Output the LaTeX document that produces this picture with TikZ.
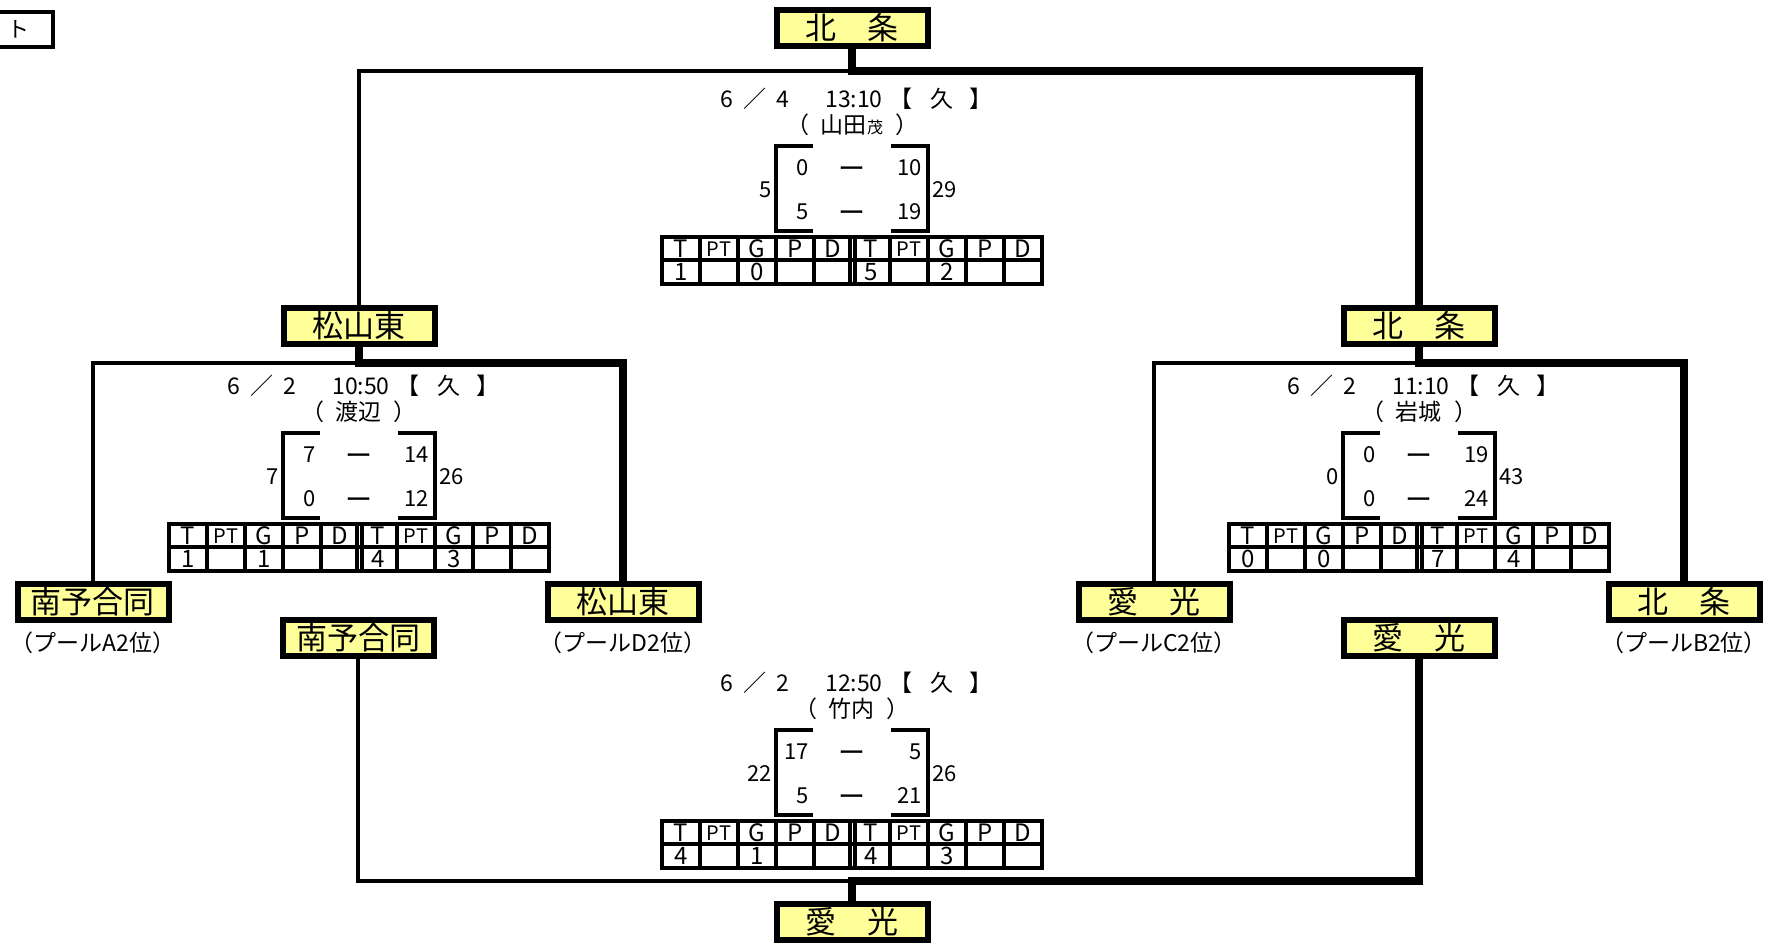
\documentclass[tikz,border=0pt]{standalone}
\usepackage{fontspec}
\newfontfamily\jp{Noto Sans CJK JP}
\usetikzlibrary{positioning}
\definecolor{teamyellow}{RGB}{255,255,153}
\newcommand\fs[1]{\fontsize{#1}{#1}\selectfont}

\begin{document}
\begin{tikzpicture}[x=0.5pt,y=-0.5pt,
  team/.style={draw,line width=3pt,fill=teamyellow,minimum width=75.5pt,minimum height=18pt,inner sep=0pt,font=\jp\fs{15.5pt}},
  pool/.style={inner sep=0pt,font=\jp\fs{11.5pt}},
  txt/.style={inner sep=0pt,font=\jp\fs{11.5pt}},
  score/.style={inner sep=0pt,font=\jp\fs{11pt}},
  refname/.style={inner sep=0pt,font=\jp\fs{11.5pt}},
  cell/.style={inner sep=0pt,font=\jp\fs{12pt}},
  thinln/.style={line width=1.8pt},
  thickln/.style={line width=4pt},
  tabln/.style={line width=2pt}]
  \useasboundingbox (0,0) rectangle (1768,943);

  \node[draw,line width=2pt,minimum width=35pt,minimum height=17.5pt,inner sep=0pt,font=\jp\fs{11pt}] (tag) at (18,29) {ト};

  \node[team] (fin) at (852,28) {北　条};
  \node[team] (sfl) at (359,326) {松山東};
  \node[team] (sfr) at (1419,326) {北　条};
  \node[team] (lfa) at (93,602) {南予合同};
  \node[team] (lfd) at (623,602) {松山東};
  \node[team] (lfc) at (1154,602) {愛　光};
  \node[team] (lfb) at (1684,602) {北　条};
  \node[team] (thl) at (358,638) {南予合同};
  \node[team] (thr) at (1419,638) {愛　光};
  \node[team] (third) at (852,922) {愛　光};

  \node[pool,below=4pt of lfa] (pla) {（プールA2位）};
  \node[pool,below=4pt of lfd] (pld) {（プールD2位）};
  \node[pool,below=4pt of lfc] (plc) {（プールC2位）};
  \node[pool,below=4pt of lfb] (plb) {（プールB2位）};

  \coordinate (jf) at (852,71);
  \coordinate (jl) at (359,363);
  \coordinate (jr) at (1419,363);
  \coordinate (jb) at (852,881);
  \draw[thinln] (sfl) |- (jf);
  \draw[thickln] (sfr) |- (jf) -- (fin);
  \draw[thinln] (lfa) |- (jl);
  \draw[thickln] (lfd) |- (jl) -- (sfl);
  \draw[thinln] (lfc) |- (jr);
  \draw[thickln] (lfb) |- (jr) -- (sfr);
  \draw[thinln] (thl) |- (jb);
  \draw[thickln] (thr) |- (jb) -- (third);

  \foreach \nm/\cx/\cy/\dd/\tm/\rf/\lt/\la/\ra/\lb/\rb/\rt/\ta/\tg/\ua/\ug in {
    fm/852/99/4/13:10/{山田{\fs{8pt}茂}}/5/0/10/5/19/29/1/0/5/2,
    lm/359/386/2/10:50/渡辺/7/7/14/0/12/26/1/1/4/3,
    rm/1419/386/2/11:10/岩城/0/0/19/0/24/43/0/0/7/4,
    bm/852/683/2/12:50/竹内/22/17/5/5/21/26/4/1/4/3} {
    \begin{scope}[shift={(\cx,\cy)}]
      \node[txt] (\nm-day) at (-97,0) {6\hspace{5pt}／\hspace{5pt}\dd};
      \node[txt] (\nm-time) at (2,0) {\tm};
      \node[txt] (\nm-kyu) at (89,0) {【\hspace{9pt}久\hspace{8pt}】};
      \node[refname] (\nm-ref) at (0,26) {（\hspace{6pt}\rf\hspace{6pt}）};
      \draw[tabln] (-39,47) -| (-76,132) -- (-39,132);
      \draw[tabln] (39,47) -| (76,132) -- (39,132);
      \node[score,anchor=east] (\nm-la) at (-43,69) {\la};
      \node[score,font=\jp\fs{13.5pt}] (\nm-da) at (0,74) {ー};
      \node[score,anchor=east] (\nm-ra) at (70,69) {\ra};
      \node[score,anchor=east] (\nm-lb) at (-43,113) {\lb};
      \node[score,font=\jp\fs{13.5pt}] (\nm-db) at (0,118) {ー};
      \node[score,anchor=east] (\nm-rb) at (70,113) {\rb};
      \node[score,anchor=east] (\nm-lt) at (-80,91) {\lt};
      \node[score,anchor=west] (\nm-rt) at (80,91) {\rt};
      \draw[tabln] (-190,138) rectangle (190,185);
      \draw[tabln] (-190,161) -- (190,161);
      \foreach \gx in {-152,-114,-76,-38,-2.5,2.5,38,76,114,152}
        \draw[tabln] (\gx,138) -- (\gx,185);
      \foreach \hx/\hd [count=\k] in {-171/T,-133/{\fs{10pt}PT},-95/G,-57/P,-19/D,19/T,57/{\fs{10pt}PT},95/G,133/P,171/D}
        \node[cell] (\nm-h\k) at (\hx,150) {\hd};
      \node[cell] (\nm-ta) at (-171,173) {\ta};
      \node[cell] (\nm-tg) at (-95,173) {\tg};
      \node[cell] (\nm-ua) at (19,173) {\ua};
      \node[cell] (\nm-ug) at (95,173) {\ug};
    \end{scope}
  }
\end{tikzpicture}
\end{document}
